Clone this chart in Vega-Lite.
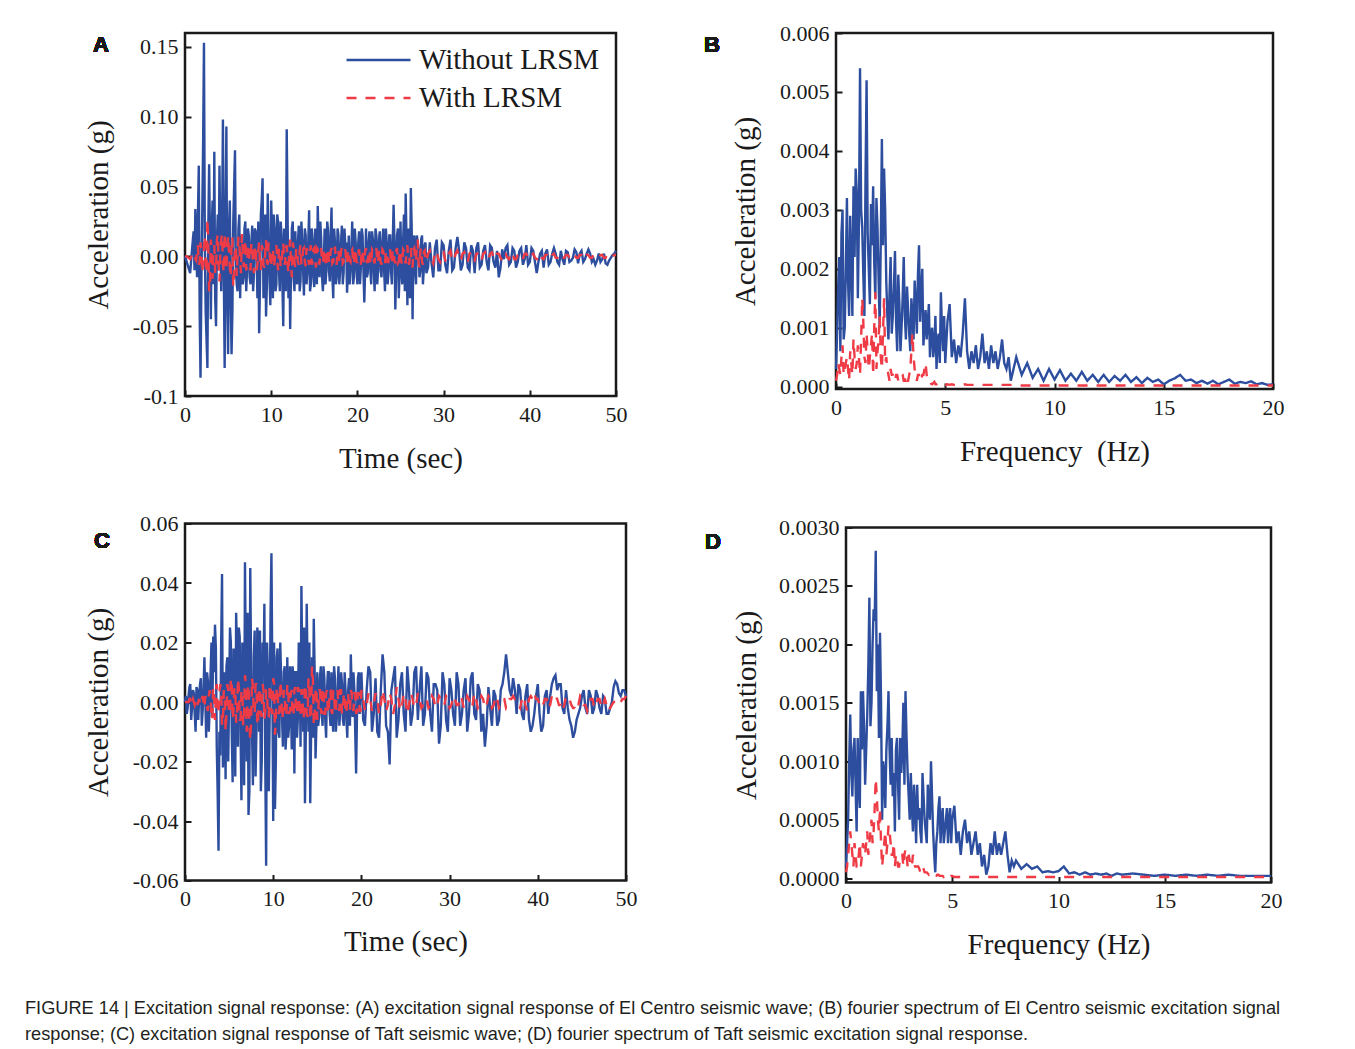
{
  "$schema": "https://vega.github.io/schema/vega-lite/v6.json",
  "autosize": {"type": "none"},
  "padding": {"left": 185, "top": 33, "right": 1170, "bottom": 1016},
  "background": "white",
  "config": {
    "view": {"stroke": "#1a1a1a", "strokeWidth": 2.5},
    "axis": {"domain": false, "grid": false, "tickSize": -6, "tickWidth": 2, "tickColor": "#1a1a1a", "labelFont": "Liberation Serif", "labelFontSize": 22, "labelColor": "#1a1a1a", "labelFlush": false, "labelOverlap": false, "titleFont": "Liberation Serif", "titleFontSize": 29, "titleFontWeight": "normal", "titleColor": "#1a1a1a", "titleBaseline": "middle"},
    "axisX": {"labelPadding": 14},
    "axisY": {"labelPadding": 13},
    "legend": {"title": null, "orient": "none", "symbolType": "stroke", "symbolSize": 4096, "symbolStrokeWidth": 2.4, "labelFont": "Liberation Serif", "labelFontSize": 29, "labelColor": "#1a1a1a", "labelOffset": 7, "rowPadding": 8, "clipHeight": 29, "padding": 0, "labelLimit": 0},
    "line": {"strokeWidth": 2.4}
  },
  "title": {
    "text": ["FIGURE 14 | Excitation signal response: (A) excitation signal response of El Centro seismic wave; (B) fourier spectrum of El Centro seismic excitation signal", "response; (C) excitation signal response of Taft seismic wave; (D) fourier spectrum of Taft seismic excitation signal response."],
    "orient": "bottom", "anchor": "start", "frame": "group", "dx": -160, "offset": 48.5, "baseline": "middle",
    "font": "Liberation Sans", "fontSize": 18.2, "fontWeight": "normal", "color": "#231f20", "lineHeight": 26
  },
  "datasets": {
    "a": [
      {"t":0,"wo":0,"w":0},{"t":0.2,"wo":-0.004,"w":0},{"t":0.4,"wo":-0.008,"w":-0.001},{"t":0.6,"wo":-0.012,"w":-0.002},{"t":0.8,"wo":0.004,"w":0.001},
      {"t":1.0,"wo":0.018,"w":0.003},{"t":1.2,"wo":0.034,"w":-0.002},{"t":1.4,"wo":-0.015,"w":0.004},{"t":1.6,"wo":0.065,"w":-0.006},{"t":1.8,"wo":-0.087,"w":0.010},
      {"t":2.0,"wo":0.030,"w":-0.012},{"t":2.2,"wo":0.153,"w":0.006},{"t":2.4,"wo":-0.040,"w":-0.008},{"t":2.6,"wo":-0.080,"w":0.027},{"t":2.8,"wo":0.066,"w":-0.025},
      {"t":3.0,"wo":-0.045,"w":0.012},{"t":3.2,"wo":0.040,"w":-0.016},{"t":3.4,"wo":0.075,"w":0.008},{"t":3.6,"wo":-0.050,"w":-0.010},{"t":3.8,"wo":0.030,"w":0.016},
      {"t":4.0,"wo":0.065,"w":-0.018},{"t":4.2,"wo":-0.025,"w":0.012},{"t":4.4,"wo":0.098,"w":-0.006},{"t":4.6,"wo":-0.080,"w":0.017},{"t":4.8,"wo":0.093,"w":-0.010},
      {"t":5.0,"wo":-0.070,"w":0.015},{"t":5.2,"wo":0.040,"w":-0.008},{"t":5.4,"wo":-0.070,"w":0.010},{"t":5.6,"wo":0.025,"w":-0.022},{"t":5.8,"wo":0.076,"w":0.006},
      {"t":6.0,"wo":-0.020,"w":-0.014},{"t":6.2,"wo":0.020,"w":0.014},{"t":6.4,"wo":-0.030,"w":-0.004},{"t":6.6,"wo":0.010,"w":0.016},{"t":6.8,"wo":-0.015,"w":-0.008},
      {"t":7.0,"wo":0.025,"w":0.012},{"t":7.2,"wo":-0.010,"w":-0.006},{"t":7.4,"wo":0.015,"w":0.009},{"t":7.6,"wo":-0.020,"w":-0.010},{"t":7.8,"wo":0.022,"w":0.004},
      {"t":8.0,"wo":-0.012,"w":-0.012},{"t":8.2,"wo":0.018,"w":0.008},{"t":8.4,"wo":-0.030,"w":-0.006},{"t":8.6,"wo":-0.055,"w":0.010},{"t":8.8,"wo":0.030,"w":-0.010},
      {"t":9.0,"wo":0.056,"w":0.006},{"t":9.2,"wo":-0.020,"w":-0.008},{"t":9.4,"wo":-0.043,"w":0.012},{"t":9.6,"wo":0.045,"w":-0.006},{"t":9.8,"wo":-0.015,"w":0.005},
      {"t":10.0,"wo":0.040,"w":-0.008},{"t":10.2,"wo":-0.030,"w":0.006},{"t":10.4,"wo":0.020,"w":-0.004},{"t":10.6,"wo":-0.020,"w":0.008},{"t":10.8,"wo":0.025,"w":-0.010},
      {"t":11.0,"wo":-0.025,"w":0.004},{"t":11.2,"wo":0.015,"w":-0.005},{"t":11.4,"wo":-0.050,"w":0.010},{"t":11.6,"wo":0.010,"w":-0.006},{"t":11.8,"wo":0.091,"w":0.008},
      {"t":12.0,"wo":-0.030,"w":-0.012},{"t":12.2,"wo":-0.052,"w":0.012},{"t":12.4,"wo":0.020,"w":-0.015},{"t":12.6,"wo":-0.015,"w":0.006},{"t":12.8,"wo":0.018,"w":-0.008},
      {"t":13.0,"wo":-0.020,"w":0.005},{"t":13.2,"wo":0.022,"w":-0.006},{"t":13.4,"wo":-0.018,"w":0.008},{"t":13.6,"wo":0.012,"w":-0.004},{"t":13.8,"wo":-0.028,"w":0.006},
      {"t":14.0,"wo":0.015,"w":-0.007},{"t":14.2,"wo":-0.012,"w":0.004},{"t":14.4,"wo":0.033,"w":-0.006},{"t":14.6,"wo":-0.020,"w":0.008},{"t":14.8,"wo":0.012,"w":-0.004},
      {"t":15.0,"wo":-0.022,"w":0.006},{"t":15.2,"wo":0.010,"w":-0.008},{"t":15.4,"wo":0.036,"w":0.005},{"t":15.6,"wo":-0.015,"w":-0.006},{"t":15.8,"wo":0.012,"w":0.006},
      {"t":16.0,"wo":-0.025,"w":-0.004},{"t":16.2,"wo":0.020,"w":0.006},{"t":16.4,"wo":-0.010,"w":-0.008},{"t":16.6,"wo":0.018,"w":0.004},{"t":16.8,"wo":-0.018,"w":-0.005},
      {"t":17.0,"wo":0.035,"w":0.006},{"t":17.2,"wo":-0.030,"w":-0.004},{"t":17.4,"wo":0.010,"w":0.007},{"t":17.6,"wo":-0.015,"w":-0.006},{"t":17.8,"wo":0.015,"w":0.004},
      {"t":18.0,"wo":-0.010,"w":-0.005},{"t":18.2,"wo":0.022,"w":0.006},{"t":18.4,"wo":-0.012,"w":-0.004},{"t":18.6,"wo":0.008,"w":0.005},{"t":18.8,"wo":-0.026,"w":-0.006},
      {"t":19.0,"wo":0.015,"w":0.004},{"t":19.2,"wo":-0.010,"w":-0.004},{"t":19.4,"wo":0.025,"w":0.005},{"t":19.6,"wo":-0.015,"w":-0.006},{"t":19.8,"wo":0.010,"w":0.006},
      {"t":20.0,"wo":-0.020,"w":-0.004},{"t":20.2,"wo":0.018,"w":0.005},{"t":20.4,"wo":-0.008,"w":-0.006},{"t":20.6,"wo":0.015,"w":0.004},{"t":20.8,"wo":-0.033,"w":-0.005},
      {"t":21.0,"wo":0.020,"w":0.006},{"t":21.2,"wo":-0.012,"w":-0.004},{"t":21.4,"wo":0.018,"w":0.005},{"t":21.6,"wo":-0.020,"w":-0.006},{"t":21.8,"wo":0.012,"w":0.004},
      {"t":22.0,"wo":-0.025,"w":-0.005},{"t":22.2,"wo":0.015,"w":0.006},{"t":22.4,"wo":-0.010,"w":-0.004},{"t":22.6,"wo":0.018,"w":0.005},{"t":22.8,"wo":-0.015,"w":-0.006},
      {"t":23.0,"wo":0.020,"w":0.004},{"t":23.2,"wo":-0.025,"w":-0.005},{"t":23.4,"wo":0.010,"w":0.004},{"t":23.6,"wo":-0.012,"w":-0.004},{"t":23.8,"wo":0.015,"w":0.005},
      {"t":24.0,"wo":-0.020,"w":-0.006},{"t":24.2,"wo":0.037,"w":0.004},{"t":24.4,"wo":-0.038,"w":-0.005},{"t":24.6,"wo":0.015,"w":0.006},{"t":24.8,"wo":-0.030,"w":-0.004},
      {"t":25.0,"wo":0.025,"w":0.005},{"t":25.2,"wo":-0.020,"w":-0.006},{"t":25.4,"wo":0.030,"w":0.004},{"t":25.6,"wo":0.045,"w":-0.005},{"t":25.8,"wo":-0.035,"w":0.008},
      {"t":26.0,"wo":0.010,"w":-0.006},{"t":26.2,"wo":0.049,"w":0.006},{"t":26.4,"wo":-0.045,"w":-0.008},{"t":26.6,"wo":0.015,"w":0.006},{"t":26.8,"wo":-0.020,"w":-0.004},
      {"t":27.0,"wo":0.010,"w":0.012},{"t":27.2,"wo":-0.015,"w":-0.008},{"t":27.4,"wo":0.012,"w":0.006},{"t":27.6,"wo":-0.020,"w":-0.006},{"t":27.8,"wo":0.008,"w":0.004},
      {"t":28.0,"wo":-0.012,"w":-0.004},{"t":28.4,"wo":0.010,"w":0.004},{"t":28.8,"wo":-0.015,"w":-0.005},{"t":29.2,"wo":0.012,"w":0.004},{"t":29.6,"wo":-0.010,"w":-0.004},
      {"t":30.0,"wo":0.008,"w":0.003},{"t":30.4,"wo":-0.012,"w":-0.004},{"t":30.8,"wo":0.012,"w":0.004},{"t":31.2,"wo":-0.008,"w":-0.003},{"t":31.6,"wo":0.014,"w":0.004},
      {"t":32.0,"wo":-0.010,"w":-0.003},{"t":32.4,"wo":0.010,"w":0.003},{"t":32.8,"wo":-0.008,"w":-0.004},{"t":33.2,"wo":0.008,"w":0.003},{"t":33.6,"wo":-0.012,"w":-0.003},
      {"t":34.0,"wo":0.010,"w":0.002},{"t":34.4,"wo":-0.006,"w":-0.003},{"t":34.8,"wo":0.008,"w":0.003},{"t":35.2,"wo":-0.010,"w":-0.002},{"t":35.6,"wo":0.006,"w":0.003},
      {"t":36.0,"wo":-0.008,"w":-0.002},{"t":36.4,"wo":-0.015,"w":0.002},{"t":36.8,"wo":0.005,"w":-0.003},{"t":37.2,"wo":0.006,"w":0.002},{"t":37.6,"wo":-0.006,"w":-0.002},
      {"t":38.0,"wo":0.006,"w":0.003},{"t":38.4,"wo":-0.008,"w":-0.002},{"t":38.8,"wo":0.004,"w":0.002},{"t":39.2,"wo":-0.006,"w":-0.002},{"t":39.6,"wo":0.008,"w":0.002},
      {"t":40.0,"wo":-0.004,"w":-0.002},{"t":40.4,"wo":0.004,"w":0.002},{"t":40.8,"wo":-0.012,"w":-0.002},{"t":41.2,"wo":0.002,"w":0.002},{"t":41.6,"wo":-0.008,"w":-0.002},
      {"t":42.0,"wo":0.005,"w":0.001},{"t":42.4,"wo":-0.004,"w":-0.002},{"t":42.8,"wo":0.006,"w":0.002},{"t":43.2,"wo":-0.004,"w":-0.001},{"t":43.6,"wo":0.004,"w":0.002},
      {"t":44.0,"wo":-0.006,"w":-0.001},{"t":44.4,"wo":0.003,"w":0.001},{"t":44.8,"wo":-0.003,"w":-0.002},{"t":45.2,"wo":0.005,"w":0.001},{"t":45.6,"wo":-0.005,"w":-0.001},
      {"t":46.0,"wo":0.004,"w":0.001},{"t":46.4,"wo":-0.002,"w":-0.002},{"t":46.8,"wo":0.005,"w":0.001},{"t":47.2,"wo":-0.004,"w":-0.001},{"t":47.6,"wo":-0.006,"w":0.001},
      {"t":48.0,"wo":0.002,"w":-0.001},{"t":48.4,"wo":-0.002,"w":0.001},{"t":48.8,"wo":-0.005,"w":-0.001},{"t":49.2,"wo":-0.003,"w":0.001},{"t":49.6,"wo":0.001,"w":0},
      {"t":50.0,"wo":0.004,"w":0.001},
      {"t":1.1,"wo":-0.010,"w":0},{"t":1.3,"wo":0.005,"w":-0.003},{"t":1.5,"wo":0.030,"w":0.008},{"t":1.7,"wo":-0.040,"w":-0.004},{"t":1.9,"wo":-0.020,"w":0.003},
      {"t":2.1,"wo":0.080,"w":-0.003},{"t":2.3,"wo":0.010,"w":0.015},{"t":2.5,"wo":-0.060,"w":-0.012},{"t":2.7,"wo":0.020,"w":0.010},{"t":2.9,"wo":0.010,"w":-0.020},
      {"t":3.1,"wo":0.020,"w":0.004},{"t":3.3,"wo":-0.020,"w":0.005},{"t":3.5,"wo":-0.030,"w":-0.012},{"t":3.7,"wo":0.010,"w":0.012},{"t":3.9,"wo":-0.010,"w":-0.006},
      {"t":4.1,"wo":0.010,"w":0.003},{"t":4.3,"wo":0.020,"w":0.016},{"t":4.5,"wo":-0.010,"w":-0.012},{"t":4.7,"wo":0.020,"w":0.002},{"t":4.9,"wo":-0.030,"w":0.005},
      {"t":5.1,"wo":0.020,"w":0.003},{"t":5.3,"wo":-0.030,"w":-0.015},{"t":5.5,"wo":-0.040,"w":0.014},{"t":5.7,"wo":0.050,"w":-0.010},{"t":5.9,"wo":-0.010,"w":0.008},
      {"t":6.1,"wo":-0.025,"w":0.002},{"t":6.3,"wo":0.030,"w":0.010},{"t":6.5,"wo":0.015,"w":-0.012},{"t":6.7,"wo":-0.020,"w":0.004},{"t":6.9,"wo":0.020,"w":0.003},
      {"t":7.1,"wo":-0.025,"w":-0.010},{"t":7.3,"wo":0.020,"w":0.006},{"t":7.5,"wo":-0.015,"w":-0.008},{"t":7.7,"wo":0.010,"w":0.010},{"t":7.9,"wo":-0.025,"w":-0.004},
      {"t":8.1,"wo":0.020,"w":0.006},{"t":8.3,"wo":0.005,"w":-0.010},{"t":8.5,"wo":0.025,"w":0.004},{"t":8.7,"wo":-0.020,"w":-0.004},{"t":8.9,"wo":0.040,"w":0.008},
      {"t":9.1,"wo":-0.030,"w":-0.006},{"t":9.3,"wo":0.030,"w":0.002},{"t":9.5,"wo":-0.020,"w":-0.004},{"t":9.7,"wo":0.010,"w":0.010},{"t":9.9,"wo":-0.035,"w":-0.006},
      {"t":10.1,"wo":0.015,"w":0.004},{"t":10.3,"wo":0.030,"w":-0.008},{"t":10.5,"wo":-0.025,"w":0.005},{"t":10.7,"wo":0.030,"w":-0.003},{"t":10.9,"wo":-0.010,"w":0.006},
      {"t":11.1,"wo":0.025,"w":-0.008},{"t":11.3,"wo":-0.020,"w":0.003},{"t":11.5,"wo":0.020,"w":-0.004},{"t":11.7,"wo":-0.025,"w":0.006},{"t":11.9,"wo":0.030,"w":-0.006},
      {"t":12.1,"wo":0.010,"w":0.004},{"t":12.3,"wo":-0.010,"w":-0.006},{"t":12.5,"wo":0.025,"w":0.010},{"t":12.7,"wo":-0.025,"w":-0.004},{"t":12.9,"wo":-0.010,"w":0.006},
      {"t":13.1,"wo":0.010,"w":-0.004},{"t":13.3,"wo":-0.025,"w":0.004},{"t":13.5,"wo":0.025,"w":-0.006},{"t":13.7,"wo":-0.010,"w":0.005},{"t":13.9,"wo":0.020,"w":-0.004},
      {"t":14.1,"wo":-0.020,"w":0.006},{"t":14.3,"wo":0.010,"w":-0.003},{"t":14.5,"wo":-0.025,"w":0.004},{"t":14.7,"wo":0.020,"w":-0.006},{"t":14.9,"wo":-0.015,"w":0.005},
      {"t":15.1,"wo":0.020,"w":-0.004},{"t":15.3,"wo":-0.020,"w":0.006},{"t":15.5,"wo":0.010,"w":-0.003},{"t":15.7,"wo":0.025,"w":0.004},{"t":15.9,"wo":-0.015,"w":-0.005},
      {"t":16.1,"wo":-0.005,"w":0.003},{"t":16.3,"wo":-0.020,"w":-0.004},{"t":16.5,"wo":0.025,"w":0.006},{"t":16.7,"wo":-0.010,"w":-0.003},{"t":16.9,"wo":0.015,"w":0.004},
      {"t":17.1,"wo":-0.015,"w":-0.005},{"t":17.3,"wo":0.020,"w":0.003},{"t":17.5,"wo":-0.020,"w":-0.004},{"t":17.7,"wo":0.020,"w":0.005},{"t":17.9,"wo":-0.020,"w":-0.003},
      {"t":18.1,"wo":0.010,"w":0.004},{"t":18.3,"wo":-0.020,"w":-0.005},{"t":18.5,"wo":0.020,"w":0.003},{"t":18.7,"wo":0.010,"w":-0.004},{"t":18.9,"wo":-0.010,"w":0.005},
      {"t":19.1,"wo":-0.020,"w":-0.003},{"t":19.3,"wo":0.005,"w":0.004},{"t":19.5,"wo":-0.020,"w":-0.004},{"t":19.7,"wo":0.020,"w":0.003},{"t":19.9,"wo":-0.010,"w":-0.004},
      {"t":20.1,"wo":0.010,"w":0.003},{"t":20.3,"wo":-0.020,"w":-0.004},{"t":20.5,"wo":0.020,"w":0.005},{"t":20.7,"wo":-0.010,"w":-0.003},{"t":20.9,"wo":-0.010,"w":0.004},
      {"t":21.1,"wo":-0.015,"w":-0.004},{"t":21.3,"wo":0.010,"w":0.003},{"t":21.5,"wo":-0.010,"w":-0.004},{"t":21.7,"wo":0.018,"w":0.005},{"t":21.9,"wo":-0.010,"w":-0.003},
      {"t":22.1,"wo":0.020,"w":0.004},{"t":22.3,"wo":-0.020,"w":-0.005},{"t":22.5,"wo":0.012,"w":0.003},{"t":22.7,"wo":-0.010,"w":-0.004},{"t":22.9,"wo":0.010,"w":0.005},
      {"t":23.1,"wo":-0.010,"w":-0.003},{"t":23.3,"wo":0.020,"w":0.004},{"t":23.5,"wo":-0.020,"w":-0.004},{"t":23.7,"wo":0.015,"w":0.003},{"t":23.9,"wo":-0.010,"w":-0.004},
      {"t":24.1,"wo":0.010,"w":0.005},{"t":24.3,"wo":0.010,"w":-0.003},{"t":24.5,"wo":-0.010,"w":0.004},{"t":24.7,"wo":0.020,"w":-0.005},{"t":24.9,"wo":-0.010,"w":0.003},
      {"t":25.1,"wo":-0.010,"w":-0.004},{"t":25.3,"wo":0.010,"w":0.005},{"t":25.5,"wo":-0.025,"w":-0.003},{"t":25.7,"wo":0.010,"w":0.004},{"t":25.9,"wo":0.020,"w":-0.004},
      {"t":26.1,"wo":-0.030,"w":0.003},{"t":26.3,"wo":0.020,"w":-0.006},{"t":26.5,"wo":0.010,"w":0.005},{"t":26.7,"wo":-0.010,"w":-0.003},{"t":26.9,"wo":0.015,"w":0.008},
      {"t":27.1,"wo":0.005,"w":-0.005},{"t":27.3,"wo":-0.010,"w":0.004},{"t":27.5,"wo":0.015,"w":-0.004},{"t":27.7,"wo":-0.010,"w":0.003},{"t":27.9,"wo":0.010,"w":-0.003},
      {"t":28.2,"wo":-0.008,"w":0.002},{"t":28.6,"wo":-0.005,"w":-0.002},{"t":29.0,"wo":0.006,"w":0.003},{"t":29.4,"wo":-0.010,"w":-0.002},{"t":29.8,"wo":0.010,"w":0.002},
      {"t":30.2,"wo":-0.006,"w":-0.003},{"t":30.6,"wo":0.004,"w":0.002},{"t":31.0,"wo":-0.010,"w":-0.003},{"t":31.4,"wo":0.006,"w":0.002},{"t":31.8,"wo":0.004,"w":-0.002},
      {"t":32.2,"wo":-0.006,"w":0.002},{"t":32.6,"wo":0.006,"w":-0.002},{"t":33.0,"wo":-0.010,"w":0.002},{"t":33.4,"wo":0.004,"w":-0.002},{"t":33.8,"wo":0.006,"w":0.002},
      {"t":34.2,"wo":-0.008,"w":-0.002},{"t":34.6,"wo":0.004,"w":0.002},{"t":35.0,"wo":-0.004,"w":-0.002},{"t":35.4,"wo":0.008,"w":0.002},{"t":35.8,"wo":-0.004,"w":-0.001},
      {"t":36.2,"wo":0.004,"w":0.002},{"t":36.6,"wo":-0.008,"w":-0.001},{"t":37.0,"wo":-0.002,"w":0.002},{"t":37.4,"wo":0.008,"w":-0.001},{"t":37.8,"wo":-0.004,"w":0.002},
      {"t":38.2,"wo":0.004,"w":-0.002},{"t":38.6,"wo":-0.004,"w":0.001},{"t":39.0,"wo":0.006,"w":-0.001},{"t":39.4,"wo":-0.002,"w":0.002},{"t":39.8,"wo":-0.006,"w":-0.001},
      {"t":40.2,"wo":0.006,"w":0.001},{"t":40.6,"wo":-0.004,"w":-0.001},{"t":41.0,"wo":-0.004,"w":0.001},{"t":41.4,"wo":0.004,"w":-0.001},{"t":41.8,"wo":0.002,"w":0.001},
      {"t":42.2,"wo":-0.006,"w":-0.001},{"t":42.6,"wo":0.002,"w":0.001},{"t":43.0,"wo":0.002,"w":-0.001},{"t":43.4,"wo":-0.006,"w":0.001},{"t":43.8,"wo":-0.002,"w":-0.001},
      {"t":44.2,"wo":0.004,"w":0.001},{"t":44.6,"wo":-0.004,"w":-0.001},{"t":45.0,"wo":-0.001,"w":0.001},{"t":45.4,"wo":0.003,"w":-0.001},{"t":45.8,"wo":0.002,"w":0.001},
      {"t":46.2,"wo":-0.004,"w":-0.001},{"t":46.6,"wo":0.002,"w":0.001},{"t":47.0,"wo":0.002,"w":-0.001},{"t":47.4,"wo":-0.002,"w":0.001},{"t":47.8,"wo":-0.003,"w":-0.001},
      {"t":48.2,"wo":-0.004,"w":0.001},{"t":48.6,"wo":0.002,"w":-0.001},{"t":49.0,"wo":-0.006,"w":0.001},{"t":49.4,"wo":-0.001,"w":-0.001},{"t":49.8,"wo":0.002,"w":0.001}
    ],
    "b": [
      {"f":0,"wo":0.0003,"w":0.0001},{"f":0.1,"wo":0.0017,"w":0.0004},{"f":0.2,"wo":0.0006,"w":0.0002},{"f":0.3,"wo":0.0030,"w":0.0007},{"f":0.4,"wo":0.0010,"w":0.0003},
      {"f":0.5,"wo":0.0032,"w":0.0005},{"f":0.6,"wo":0.0012,"w":0.0001},{"f":0.7,"wo":0.0021,"w":0.0004},{"f":0.8,"wo":0.0034,"w":0.0008},{"f":0.9,"wo":0.0037,"w":0.0003},
      {"f":1.0,"wo":0.0015,"w":0.0007},{"f":1.1,"wo":0.0054,"w":0.0002},{"f":1.2,"wo":0.0027,"w":0.0015},{"f":1.3,"wo":0.0012,"w":0.0005},{"f":1.4,"wo":0.0052,"w":0.0009},
      {"f":1.5,"wo":0.0020,"w":0.0003},{"f":1.6,"wo":0.0031,"w":0.0007},{"f":1.7,"wo":0.0034,"w":0.0002},{"f":1.8,"wo":0.0015,"w":0.0016},{"f":1.9,"wo":0.0027,"w":0.0006},
      {"f":2.0,"wo":0.0010,"w":0.0012},{"f":2.1,"wo":0.0042,"w":0.0003},{"f":2.2,"wo":0.0037,"w":0.0015},{"f":2.3,"wo":0.0018,"w":0.0005},{"f":2.4,"wo":0.0008,"w":0.0002},
      {"f":2.5,"wo":0.0022,"w":0.0003},{"f":2.6,"wo":0.0012,"w":0.0002},{"f":2.7,"wo":0.0023,"w":0.0001},{"f":2.8,"wo":0.0006,"w":0.0002},{"f":2.9,"wo":0.0014,"w":0.0001},
      {"f":3.0,"wo":0.0010,"w":0.0002},{"f":3.1,"wo":0.0022,"w":0.0001},{"f":3.2,"wo":0.0008,"w":0.0002},{"f":3.3,"wo":0.0013,"w":0.0001},{"f":3.4,"wo":0.0006,"w":0.0003},
      {"f":3.5,"wo":0.0012,"w":0.0009},{"f":3.6,"wo":0.0018,"w":0.0003},{"f":3.7,"wo":0.0009,"w":0.0001},{"f":3.8,"wo":0.0024,"w":0.0002},{"f":3.9,"wo":0.0016,"w":0.0001},
      {"f":4.0,"wo":0.0007,"w":0.0002},{"f":4.1,"wo":0.0013,"w":0.0004},{"f":4.2,"wo":0.0011,"w":0.0001},{"f":4.3,"wo":0.0005,"w":0.0001},{"f":4.4,"wo":0.0010,"w":0.00004},
      {"f":4.5,"wo":0.0007,"w":0.00008},{"f":4.6,"wo":0.0003,"w":0.00004},{"f":4.7,"wo":0.0009,"w":0.00006},{"f":4.8,"wo":0.0016,"w":0.00004},{"f":4.9,"wo":0.0006,"w":0.00005},
      {"f":5.0,"wo":0.0004,"w":0.00003},{"f":5.1,"wo":0.0011,"w":0.00004},{"f":5.2,"wo":0.0014,"w":0.00003},{"f":5.3,"wo":0.0005,"w":0.00004},{"f":5.4,"wo":0.0008,"w":0.00003},
      {"f":5.5,"wo":0.0004,"w":0.00003},{"f":5.6,"wo":0.0007,"w":0.00004},{"f":5.7,"wo":0.0005,"w":0.00003},{"f":5.8,"wo":0.0009,"w":0.00003},{"f":5.9,"wo":0.0015,"w":0.00004},
      {"f":6.0,"wo":0.0006,"w":0.00003},{"f":6.1,"wo":0.0003,"w":0.00003},{"f":6.2,"wo":0.0006,"w":0.00003},{"f":6.3,"wo":0.0004,"w":0.00003},{"f":6.4,"wo":0.0007,"w":0.00003},
      {"f":6.5,"wo":0.0003,"w":0.00003},{"f":6.6,"wo":0.0005,"w":0.00003},{"f":6.7,"wo":0.0009,"w":0.00003},{"f":6.8,"wo":0.0004,"w":0.00003},{"f":6.9,"wo":0.0006,"w":0.00003},
      {"f":7.0,"wo":0.0003,"w":0.00003},{"f":7.1,"wo":0.0007,"w":0.00003},{"f":7.2,"wo":0.0004,"w":0.00003},{"f":7.3,"wo":0.0006,"w":0.00003},{"f":7.4,"wo":0.0003,"w":0.00003},
      {"f":7.5,"wo":0.0005,"w":0.00003},{"f":7.6,"wo":0.0008,"w":0.00003},{"f":7.7,"wo":0.0004,"w":0.00003},{"f":7.8,"wo":0.0003,"w":0.00003},{"f":7.9,"wo":0.0005,"w":0.00003},
      {"f":8.0,"wo":0.0001,"w":0.00003},{"f":8.25,"wo":0.0005,"w":0.00003},{"f":8.5,"wo":0.0002,"w":0.00002},{"f":8.75,"wo":0.0004,"w":0.00002},{"f":9.0,"wo":0.00015,"w":0.00002},
      {"f":9.25,"wo":0.0003,"w":0.00002},{"f":9.5,"wo":0.0001,"w":0.00002},{"f":9.75,"wo":0.0003,"w":0.00002},{"f":10.0,"wo":0.00012,"w":0.00002},{"f":10.25,"wo":0.00028,"w":0.00002},
      {"f":10.5,"wo":0.0001,"w":0.00002},{"f":10.75,"wo":0.00022,"w":0.00002},{"f":11.0,"wo":0.0001,"w":0.00002},{"f":11.25,"wo":0.00025,"w":0.00002},{"f":11.5,"wo":0.0001,"w":0.00002},
      {"f":11.75,"wo":0.0002,"w":0.00002},{"f":12.0,"wo":0.00008,"w":0.00002},{"f":12.25,"wo":0.0002,"w":0.00002},{"f":12.5,"wo":0.00008,"w":0.00002},{"f":12.75,"wo":0.00018,"w":0.00002},
      {"f":13.0,"wo":0.0001,"w":0.00002},{"f":13.25,"wo":0.0002,"w":0.00002},{"f":13.5,"wo":0.00008,"w":0.00002},{"f":13.75,"wo":0.00016,"w":0.00002},{"f":14.0,"wo":0.00006,"w":0.00002},
      {"f":14.25,"wo":0.00015,"w":0.00002},{"f":14.5,"wo":0.00008,"w":0.00002},{"f":14.75,"wo":0.00012,"w":0.00002},{"f":15.0,"wo":0.00004,"w":0.00002},{"f":15.25,"wo":0.0001,"w":0.00002},
      {"f":15.5,"wo":0.00014,"w":0.00002},{"f":15.75,"wo":0.0002,"w":0.00002},{"f":16.0,"wo":0.0001,"w":0.00002},{"f":16.25,"wo":0.00012,"w":0.00002},{"f":16.5,"wo":0.00006,"w":0.00002},
      {"f":16.75,"wo":0.0001,"w":0.00002},{"f":17.0,"wo":0.00005,"w":0.00002},{"f":17.25,"wo":0.0001,"w":0.00002},{"f":17.5,"wo":0.00004,"w":0.00002},{"f":17.75,"wo":0.00008,"w":0.00002},
      {"f":18.0,"wo":0.00012,"w":0.00002},{"f":18.25,"wo":0.00005,"w":0.00002},{"f":18.5,"wo":0.00008,"w":0.00002},{"f":18.75,"wo":0.00006,"w":0.00002},{"f":19.0,"wo":0.00009,"w":0.00002},
      {"f":19.25,"wo":0.00004,"w":0.00002},{"f":19.5,"wo":0.00006,"w":0.00002},{"f":19.75,"wo":0.00003,"w":0.00002},{"f":20.0,"wo":0.00004,"w":0.00002},
      {"f":0.05,"wo":0.0009,"w":0.0002},{"f":0.15,"wo":0.0022,"w":0.0003},{"f":0.25,"wo":0.0026,"w":0.0005},{"f":0.35,"wo":0.0008,"w":0.0002},{"f":0.45,"wo":0.0020,"w":0.0004},
      {"f":0.55,"wo":0.0018,"w":0.0003},{"f":0.65,"wo":0.0029,"w":0.0006},{"f":0.75,"wo":0.0012,"w":0.0002},{"f":0.85,"wo":0.0022,"w":0.0005},{"f":0.95,"wo":0.0033,"w":0.0004},
      {"f":1.05,"wo":0.0028,"w":0.0005},{"f":1.15,"wo":0.0030,"w":0.0008},{"f":1.25,"wo":0.0019,"w":0.0011},{"f":1.35,"wo":0.0035,"w":0.0004},{"f":1.45,"wo":0.0026,"w":0.0006},
      {"f":1.55,"wo":0.0014,"w":0.0005},{"f":1.65,"wo":0.0024,"w":0.0009},{"f":1.75,"wo":0.0021,"w":0.0010},{"f":1.85,"wo":0.0032,"w":0.0003},{"f":1.95,"wo":0.0018,"w":0.0008},
      {"f":2.05,"wo":0.0025,"w":0.0005},{"f":2.15,"wo":0.0024,"w":0.0009},{"f":2.25,"wo":0.0030,"w":0.0004},{"f":2.35,"wo":0.0012,"w":0.0003},{"f":2.45,"wo":0.0016,"w":0.0001},
      {"f":2.55,"wo":0.0009,"w":0.0002},{"f":2.65,"wo":0.0017,"w":0.0001},{"f":2.75,"wo":0.0011,"w":0.0002},{"f":2.85,"wo":0.0019,"w":0.0001},{"f":2.95,"wo":0.0006,"w":0.0001},
      {"f":3.05,"wo":0.0015,"w":0.0002},{"f":3.15,"wo":0.0012,"w":0.0001},{"f":3.25,"wo":0.0017,"w":0.0001},{"f":3.35,"wo":0.0009,"w":0.0002},{"f":3.45,"wo":0.0015,"w":0.0006},
      {"f":3.55,"wo":0.0008,"w":0.0005},{"f":3.65,"wo":0.0014,"w":0.0002},{"f":3.75,"wo":0.0019,"w":0.0002},{"f":3.85,"wo":0.0011,"w":0.0001},{"f":3.95,"wo":0.0020,"w":0.0002},
      {"f":4.05,"wo":0.0010,"w":0.0003},{"f":4.15,"wo":0.0008,"w":0.0002},{"f":4.25,"wo":0.0014,"w":0.0001},{"f":4.35,"wo":0.0009,"w":0.00005},{"f":4.45,"wo":0.0005,"w":0.00006},
      {"f":4.55,"wo":0.0012,"w":0.00004},{"f":4.65,"wo":0.0008,"w":0.00005},{"f":4.75,"wo":0.0004,"w":0.00004},{"f":4.85,"wo":0.0010,"w":0.00004},{"f":4.95,"wo":0.0012,"w":0.00004}
    ],
    "c": [
      {"t":0,"wo":0,"w":0},{"t":0.2,"wo":-0.004,"w":0},{"t":0.4,"wo":0.002,"w":0},{"t":0.6,"wo":0.006,"w":0.001},{"t":0.8,"wo":-0.002,"w":0},
      {"t":1.0,"wo":0.003,"w":0},{"t":1.2,"wo":-0.010,"w":0},{"t":1.4,"wo":0.004,"w":-0.001},{"t":1.6,"wo":0.001,"w":0.001},{"t":1.8,"wo":0.008,"w":-0.001},
      {"t":2.0,"wo":-0.003,"w":0.002},{"t":2.2,"wo":0.015,"w":-0.002},{"t":2.4,"wo":-0.012,"w":0.001},{"t":2.6,"wo":0.007,"w":-0.003},{"t":2.8,"wo":-0.002,"w":0.004},
      {"t":3.0,"wo":0.020,"w":-0.004},{"t":3.2,"wo":0.022,"w":0.005},{"t":3.4,"wo":0.026,"w":-0.006},{"t":3.6,"wo":-0.015,"w":0.006},{"t":3.8,"wo":-0.050,"w":-0.004},
      {"t":4.0,"wo":-0.018,"w":0.006},{"t":4.2,"wo":0.043,"w":-0.008},{"t":4.4,"wo":-0.010,"w":0.004},{"t":4.6,"wo":-0.026,"w":-0.010},{"t":4.8,"wo":0.015,"w":0.006},
      {"t":5.0,"wo":0.002,"w":-0.004},{"t":5.2,"wo":0.020,"w":0.008},{"t":5.4,"wo":-0.027,"w":-0.006},{"t":5.6,"wo":0.010,"w":0.005},{"t":5.8,"wo":0.030,"w":-0.007},
      {"t":6.0,"wo":-0.015,"w":0.008},{"t":6.2,"wo":0.022,"w":-0.006},{"t":6.4,"wo":-0.033,"w":0.004},{"t":6.6,"wo":0.010,"w":-0.008},{"t":6.8,"wo":0.047,"w":0.009},
      {"t":7.0,"wo":-0.020,"w":-0.010},{"t":7.2,"wo":-0.038,"w":0.006},{"t":7.4,"wo":0.045,"w":-0.013},{"t":7.6,"wo":-0.010,"w":0.008},{"t":7.8,"wo":0.015,"w":-0.004},
      {"t":8.0,"wo":-0.025,"w":0.006},{"t":8.2,"wo":0.025,"w":-0.008},{"t":8.4,"wo":-0.010,"w":0.005},{"t":8.6,"wo":-0.030,"w":-0.004},{"t":8.8,"wo":0.020,"w":0.006},
      {"t":9.0,"wo":0.033,"w":-0.006},{"t":9.2,"wo":-0.055,"w":0.004},{"t":9.4,"wo":0.010,"w":-0.005},{"t":9.6,"wo":-0.005,"w":0.006},{"t":9.8,"wo":0.050,"w":-0.003},
      {"t":10.0,"wo":-0.040,"w":0.008},{"t":10.2,"wo":-0.036,"w":-0.011},{"t":10.4,"wo":0.015,"w":0.005},{"t":10.6,"wo":-0.010,"w":-0.004},{"t":10.8,"wo":0.020,"w":0.007},
      {"t":11.0,"wo":-0.005,"w":-0.006},{"t":11.2,"wo":0.010,"w":0.004},{"t":11.4,"wo":-0.016,"w":-0.005},{"t":11.6,"wo":0.015,"w":0.006},{"t":11.8,"wo":-0.008,"w":-0.004},
      {"t":12.0,"wo":0.005,"w":0.003},{"t":12.2,"wo":0.012,"w":-0.005},{"t":12.4,"wo":-0.024,"w":0.004},{"t":12.6,"wo":0.010,"w":-0.004},{"t":12.8,"wo":-0.005,"w":0.005},
      {"t":13.0,"wo":0.015,"w":-0.003},{"t":13.2,"wo":0.039,"w":0.004},{"t":13.4,"wo":-0.010,"w":-0.006},{"t":13.6,"wo":-0.034,"w":0.005},{"t":13.8,"wo":0.033,"w":-0.004},
      {"t":14.0,"wo":-0.010,"w":0.008},{"t":14.2,"wo":-0.034,"w":-0.006},{"t":14.4,"wo":0.015,"w":0.012},{"t":14.6,"wo":0.028,"w":-0.008},{"t":14.8,"wo":-0.019,"w":0.004},
      {"t":15.0,"wo":0.010,"w":-0.006},{"t":15.2,"wo":-0.005,"w":0.004},{"t":15.4,"wo":0.012,"w":-0.003},{"t":15.6,"wo":-0.008,"w":0.005},{"t":15.8,"wo":0.008,"w":-0.004},
      {"t":16.0,"wo":-0.012,"w":0.003},{"t":16.2,"wo":0.010,"w":-0.004},{"t":16.4,"wo":-0.004,"w":0.004},{"t":16.6,"wo":0.010,"w":-0.003},{"t":16.8,"wo":-0.010,"w":0.004},
      {"t":17.0,"wo":0.008,"w":-0.004},{"t":17.2,"wo":-0.006,"w":0.003},{"t":17.4,"wo":0.012,"w":-0.002},{"t":17.6,"wo":-0.003,"w":0.004},{"t":17.8,"wo":0.006,"w":-0.004},
      {"t":18.0,"wo":-0.008,"w":0.003},{"t":18.2,"wo":0.004,"w":-0.004},{"t":18.4,"wo":-0.012,"w":0.002},{"t":18.6,"wo":0.008,"w":-0.003},{"t":18.8,"wo":0.016,"w":0.004},
      {"t":19.0,"wo":-0.005,"w":-0.002},{"t":19.2,"wo":0.004,"w":0.003},{"t":19.4,"wo":-0.024,"w":-0.004},{"t":19.6,"wo":0.008,"w":0.003},{"t":19.8,"wo":-0.004,"w":-0.003},
      {"t":20.0,"wo":0.010,"w":0.004},{"t":20.4,"wo":-0.008,"w":-0.003},{"t":20.8,"wo":0.012,"w":0.003},{"t":21.2,"wo":-0.010,"w":-0.003},{"t":21.6,"wo":0.008,"w":0.003},
      {"t":22.0,"wo":-0.012,"w":-0.004},{"t":22.4,"wo":0.016,"w":0.004},{"t":22.8,"wo":-0.008,"w":-0.003},{"t":23.2,"wo":-0.021,"w":0.003},{"t":23.6,"wo":0.008,"w":-0.004},
      {"t":24.0,"wo":-0.012,"w":0.005},{"t":24.4,"wo":0.006,"w":-0.003},{"t":24.8,"wo":-0.004,"w":0.003},{"t":25.2,"wo":0.012,"w":-0.004},{"t":25.6,"wo":-0.008,"w":0.003},
      {"t":26.0,"wo":0.010,"w":-0.002},{"t":26.4,"wo":-0.006,"w":0.003},{"t":26.8,"wo":0.012,"w":-0.002},{"t":27.2,"wo":-0.004,"w":0.001},{"t":27.6,"wo":0.008,"w":-0.002},
      {"t":28.0,"wo":-0.010,"w":0.002},{"t":28.4,"wo":0.006,"w":-0.002},{"t":28.8,"wo":-0.014,"w":0.002},{"t":29.2,"wo":0.010,"w":-0.001},{"t":29.6,"wo":-0.006,"w":0.002},
      {"t":30.0,"wo":0.008,"w":-0.002},{"t":30.4,"wo":-0.004,"w":0.002},{"t":30.8,"wo":0.010,"w":-0.001},{"t":31.2,"wo":-0.008,"w":0.002},{"t":31.6,"wo":0.004,"w":-0.002},
      {"t":32.0,"wo":-0.010,"w":0.002},{"t":32.4,"wo":0.008,"w":-0.002},{"t":32.8,"wo":-0.004,"w":0.003},{"t":33.2,"wo":0.006,"w":-0.002},{"t":33.6,"wo":-0.010,"w":0.002},
      {"t":34.0,"wo":-0.015,"w":-0.002},{"t":34.4,"wo":0.005,"w":0.002},{"t":34.8,"wo":-0.008,"w":-0.002},{"t":35.2,"wo":0.002,"w":0.002},{"t":35.6,"wo":-0.006,"w":-0.002},
      {"t":36.0,"wo":0.006,"w":0.001},{"t":36.4,"wo":0.016,"w":-0.002},{"t":36.8,"wo":0.004,"w":0.001},{"t":37.2,"wo":0.008,"w":0.002},{"t":37.6,"wo":-0.004,"w":0.001},
      {"t":38.0,"wo":0.004,"w":-0.002},{"t":38.4,"wo":-0.006,"w":0.002},{"t":38.8,"wo":0.006,"w":-0.003},{"t":39.2,"wo":-0.010,"w":0.002},{"t":39.6,"wo":-0.004,"w":0.003},
      {"t":40.0,"wo":0.006,"w":0.001},{"t":40.4,"wo":-0.010,"w":-0.002},{"t":40.8,"wo":0.002,"w":0.001},{"t":41.2,"wo":-0.004,"w":-0.002},{"t":41.6,"wo":0.006,"w":0.002},
      {"t":42.0,"wo":0.009,"w":0.002},{"t":42.4,"wo":0.006,"w":-0.001},{"t":42.8,"wo":-0.002,"w":-0.003},{"t":43.2,"wo":0.004,"w":0.002},{"t":43.6,"wo":-0.006,"w":0.001},
      {"t":44.0,"wo":-0.012,"w":-0.002},{"t":44.4,"wo":-0.006,"w":-0.003},{"t":44.8,"wo":-0.002,"w":0.002},{"t":45.2,"wo":0.004,"w":-0.001},{"t":45.6,"wo":-0.004,"w":-0.003},
      {"t":46.0,"wo":0.002,"w":0.001},{"t":46.4,"wo":-0.002,"w":-0.002},{"t":46.8,"wo":0.002,"w":0.001},{"t":47.2,"wo":-0.004,"w":-0.002},{"t":47.6,"wo":0.001,"w":0.001},
      {"t":48.0,"wo":-0.004,"w":-0.003},{"t":48.4,"wo":0,"w":-0.001},{"t":48.8,"wo":0.007,"w":0},{"t":49.2,"wo":0.003,"w":-0.001},{"t":49.6,"wo":0.004,"w":0.001},
      {"t":50.0,"wo":0.002,"w":0.002},
      {"t":0.1,"wo":0.002,"w":0},{"t":0.3,"wo":-0.002,"w":0},{"t":0.5,"wo":0.005,"w":0.001},{"t":0.7,"wo":-0.006,"w":-0.001},{"t":0.9,"wo":0.004,"w":0.001},
      {"t":1.1,"wo":-0.004,"w":-0.001},{"t":1.3,"wo":0.005,"w":0.001},{"t":1.5,"wo":-0.006,"w":0},{"t":1.7,"wo":0.006,"w":-0.001},{"t":1.9,"wo":-0.008,"w":0.001},
      {"t":2.1,"wo":0.004,"w":0},{"t":2.3,"wo":0.002,"w":0.002},{"t":2.5,"wo":0.010,"w":-0.002},{"t":2.7,"wo":-0.010,"w":0.002},{"t":2.9,"wo":0.010,"w":0.002},
      {"t":3.1,"wo":-0.005,"w":-0.006},{"t":3.3,"wo":0.010,"w":0.002},{"t":3.5,"wo":0.018,"w":0.004},{"t":3.7,"wo":-0.030,"w":-0.002},{"t":3.9,"wo":-0.010,"w":0.003},
      {"t":4.1,"wo":0.020,"w":0.004},{"t":4.3,"wo":-0.022,"w":-0.006},{"t":4.5,"wo":0.010,"w":0.002},{"t":4.7,"wo":0.012,"w":-0.004},{"t":4.9,"wo":-0.020,"w":0.004},
      {"t":5.1,"wo":0.025,"w":-0.004},{"t":5.3,"wo":-0.010,"w":0.006},{"t":5.5,"wo":0.018,"w":-0.003},{"t":5.7,"wo":-0.025,"w":0.004},{"t":5.9,"wo":0.015,"w":-0.004},
      {"t":6.1,"wo":0.025,"w":0.005},{"t":6.3,"wo":-0.010,"w":-0.006},{"t":6.5,"wo":0.020,"w":0.004},{"t":6.7,"wo":-0.028,"w":-0.003},{"t":6.9,"wo":0.010,"w":0.006},
      {"t":7.1,"wo":0.030,"w":0.004},{"t":7.3,"wo":-0.030,"w":-0.008},{"t":7.5,"wo":0.010,"w":-0.006},{"t":7.7,"wo":-0.028,"w":0.005},{"t":7.9,"wo":0.024,"w":-0.004},
      {"t":8.1,"wo":-0.010,"w":0.006},{"t":8.3,"wo":0.020,"w":-0.006},{"t":8.5,"wo":0.024,"w":0.004},{"t":8.7,"wo":-0.020,"w":-0.005},{"t":8.9,"wo":0.010,"w":0.004},
      {"t":9.1,"wo":-0.020,"w":-0.003},{"t":9.3,"wo":0.020,"w":0.004},{"t":9.5,"wo":-0.030,"w":-0.005},{"t":9.7,"wo":0.030,"w":0.004},{"t":9.9,"wo":0.010,"w":-0.004},
      {"t":10.1,"wo":0.020,"w":0.006},{"t":10.3,"wo":-0.020,"w":-0.005},{"t":10.5,"wo":0.018,"w":0.004},{"t":10.7,"wo":-0.012,"w":-0.003},{"t":10.9,"wo":0.008,"w":0.004},
      {"t":11.1,"wo":-0.015,"w":-0.004},{"t":11.3,"wo":0.012,"w":0.003},{"t":11.5,"wo":-0.010,"w":-0.004},{"t":11.7,"wo":-0.012,"w":0.004},{"t":11.9,"wo":0.012,"w":-0.003},
      {"t":12.1,"wo":-0.016,"w":0.004},{"t":12.3,"wo":0.008,"w":-0.004},{"t":12.5,"wo":0.010,"w":0.005},{"t":12.7,"wo":-0.012,"w":-0.004},{"t":12.9,"wo":0.020,"w":0.004},
      {"t":13.1,"wo":-0.015,"w":-0.005},{"t":13.3,"wo":0.010,"w":0.004},{"t":13.5,"wo":0.025,"w":-0.004},{"t":13.7,"wo":-0.010,"w":0.006},{"t":13.9,"wo":0.010,"w":-0.005},
      {"t":14.1,"wo":0.020,"w":0.004},{"t":14.3,"wo":-0.010,"w":-0.004},{"t":14.5,"wo":-0.012,"w":0.008},{"t":14.7,"wo":0.010,"w":-0.006},{"t":14.9,"wo":-0.008,"w":0.005},
      {"t":15.1,"wo":-0.008,"w":-0.004},{"t":15.3,"wo":0.008,"w":0.004},{"t":15.5,"wo":-0.004,"w":-0.004},{"t":15.7,"wo":0.012,"w":0.003},{"t":15.9,"wo":-0.006,"w":-0.004},
      {"t":16.1,"wo":0.004,"w":0.004},{"t":16.3,"wo":0.010,"w":-0.003},{"t":16.5,"wo":-0.008,"w":0.004},{"t":16.7,"wo":-0.004,"w":-0.004},{"t":16.9,"wo":0.012,"w":0.003},
      {"t":17.1,"wo":-0.010,"w":-0.003},{"t":17.3,"wo":0.004,"w":0.004},{"t":17.5,"wo":-0.008,"w":-0.003},{"t":17.7,"wo":0.010,"w":0.004},{"t":17.9,"wo":-0.006,"w":-0.003},
      {"t":18.1,"wo":0.010,"w":0.003},{"t":18.3,"wo":-0.006,"w":-0.004},{"t":18.5,"wo":0.004,"w":0.003},{"t":18.7,"wo":-0.008,"w":-0.003},{"t":18.9,"wo":0.004,"w":0.003},
      {"t":19.1,"wo":0.010,"w":-0.003},{"t":19.3,"wo":-0.010,"w":0.003},{"t":19.5,"wo":-0.004,"w":-0.003},{"t":19.7,"wo":0.010,"w":0.003},{"t":19.9,"wo":0.006,"w":-0.003},
      {"t":20.2,"wo":-0.006,"w":0.001},{"t":20.6,"wo":0.004,"w":-0.001},{"t":21.0,"wo":0.010,"w":0.001},{"t":21.4,"wo":-0.004,"w":-0.001},{"t":21.8,"wo":-0.010,"w":0.001},
      {"t":22.2,"wo":0.004,"w":-0.001},{"t":22.6,"wo":0.010,"w":0.001},{"t":23.0,"wo":-0.010,"w":-0.001},{"t":23.4,"wo":0.004,"w":0.001},{"t":23.8,"wo":0.012,"w":-0.001},
      {"t":24.2,"wo":-0.006,"w":0.001},{"t":24.6,"wo":0.010,"w":-0.001},{"t":25.0,"wo":-0.010,"w":0.001},{"t":25.4,"wo":0.004,"w":-0.001},{"t":25.8,"wo":-0.004,"w":0.001},
      {"t":26.2,"wo":0.012,"w":-0.001},{"t":26.6,"wo":0.004,"w":0.001},{"t":27.0,"wo":-0.008,"w":-0.001},{"t":27.4,"wo":0.010,"w":0.001},{"t":27.8,"wo":-0.004,"w":-0.001},
      {"t":28.2,"wo":0.006,"w":0.001},{"t":28.6,"wo":0.004,"w":-0.001},{"t":29.0,"wo":-0.008,"w":0.001},{"t":29.4,"wo":0.006,"w":-0.001},{"t":29.8,"wo":-0.010,"w":0.001},
      {"t":30.2,"wo":0.004,"w":-0.001},{"t":30.6,"wo":-0.008,"w":0.001},{"t":31.0,"wo":0.006,"w":-0.001},{"t":31.4,"wo":-0.004,"w":0.001},{"t":31.8,"wo":0.008,"w":-0.001},
      {"t":32.2,"wo":-0.004,"w":0.001},{"t":32.6,"wo":0.010,"w":-0.001},{"t":33.0,"wo":-0.006,"w":0.001},{"t":33.4,"wo":0.004,"w":-0.001},{"t":33.8,"wo":-0.004,"w":0.001},
      {"t":34.2,"wo":-0.008,"w":-0.001},{"t":34.6,"wo":-0.002,"w":0.001},{"t":35.0,"wo":0.004,"w":-0.001},{"t":35.4,"wo":-0.008,"w":0.001},{"t":35.8,"wo":0.004,"w":-0.001},
      {"t":36.2,"wo":0.010,"w":0.001},{"t":36.6,"wo":0.010,"w":-0.001},{"t":37.0,"wo":0.002,"w":0.001},{"t":37.4,"wo":0.004,"w":0.001},{"t":37.8,"wo":0.006,"w":-0.001},
      {"t":38.2,"wo":-0.004,"w":0.001},{"t":38.6,"wo":0.002,"w":-0.001},{"t":39.0,"wo":-0.006,"w":0.001},{"t":39.4,"wo":-0.008,"w":0.001},{"t":39.8,"wo":0.002,"w":0.001},
      {"t":40.2,"wo":-0.004,"w":-0.001},{"t":40.6,"wo":-0.008,"w":-0.001},{"t":41.0,"wo":0.004,"w":0.001},{"t":41.4,"wo":0.002,"w":-0.001},{"t":41.8,"wo":0.008,"w":0.001},
      {"t":42.2,"wo":0.004,"w":0.001},{"t":42.6,"wo":0.006,"w":-0.001},{"t":43.0,"wo":-0.004,"w":-0.001},{"t":43.4,"wo":-0.002,"w":0.001},{"t":43.8,"wo":-0.008,"w":-0.001},
      {"t":44.2,"wo":-0.010,"w":-0.002},{"t":44.6,"wo":-0.004,"w":-0.001},{"t":45.0,"wo":0.002,"w":0.001},{"t":45.4,"wo":-0.002,"w":-0.001},{"t":45.8,"wo":0.004,"w":-0.001},
      {"t":46.2,"wo":-0.004,"w":0.001},{"t":46.6,"wo":0.004,"w":-0.001},{"t":47.0,"wo":-0.002,"w":0.001},{"t":47.4,"wo":0.002,"w":-0.001},{"t":47.8,"wo":-0.004,"w":-0.001},
      {"t":48.2,"wo":-0.002,"w":-0.002},{"t":48.6,"wo":0.005,"w":0},{"t":49.0,"wo":0.006,"w":-0.001},{"t":49.4,"wo":0.002,"w":0},{"t":49.8,"wo":0.004,"w":0.001}
    ],
    "d": [
      {"f":0,"wo":0.0001,"w":0.00005},{"f":0.1,"wo":0.0005,"w":0.0002},{"f":0.2,"wo":0.0014,"w":0.0004},{"f":0.3,"wo":0.0007,"w":0.0002},{"f":0.4,"wo":0.0012,"w":0.0003},
      {"f":0.5,"wo":0.0004,"w":0.0001},{"f":0.6,"wo":0.0008,"w":0.0002},{"f":0.7,"wo":0.0016,"w":0.0001},{"f":0.8,"wo":0.0016,"w":0.0003},{"f":0.9,"wo":0.0008,"w":0.0002},
      {"f":1.0,"wo":0.0014,"w":0.0004},{"f":1.1,"wo":0.0024,"w":0.0003},{"f":1.2,"wo":0.0015,"w":0.0005},{"f":1.3,"wo":0.0023,"w":0.0004},{"f":1.4,"wo":0.0028,"w":0.00085},
      {"f":1.5,"wo":0.0020,"w":0.0005},{"f":1.6,"wo":0.0021,"w":0.0006},{"f":1.7,"wo":0.0005,"w":0.0001},{"f":1.8,"wo":0.0009,"w":0.0003},{"f":1.9,"wo":0.0011,"w":0.0002},
      {"f":2.0,"wo":0.0016,"w":0.00045},{"f":2.1,"wo":0.0008,"w":0.0003},{"f":2.2,"wo":0.0007,"w":0.0002},{"f":2.3,"wo":0.0004,"w":0.0001},{"f":2.4,"wo":0.0012,"w":0.0002},
      {"f":2.5,"wo":0.0005,"w":0.0001},{"f":2.6,"wo":0.0009,"w":0.0002},{"f":2.7,"wo":0.0015,"w":0.0001},{"f":2.8,"wo":0.0016,"w":0.00025},{"f":2.9,"wo":0.0009,"w":0.0001},
      {"f":3.0,"wo":0.0005,"w":0.00015},{"f":3.1,"wo":0.0006,"w":0.0001},{"f":3.2,"wo":0.0008,"w":0.00015},{"f":3.3,"wo":0.0003,"w":0.0001},{"f":3.4,"wo":0.0005,"w":0.0001},
      {"f":3.5,"wo":0.0004,"w":0.00005},{"f":3.6,"wo":0.0009,"w":0.0001},{"f":3.7,"wo":0.0005,"w":0.00005},{"f":3.8,"wo":0.0003,"w":0.00005},{"f":3.9,"wo":0.0006,"w":0.00003},
      {"f":4.0,"wo":0.0010,"w":0.00005},{"f":4.1,"wo":0.0004,"w":0.00003},{"f":4.2,"wo":0.00005,"w":0.00002},{"f":4.3,"wo":0.0004,"w":0.00003},{"f":4.4,"wo":0.0007,"w":0.00002},
      {"f":4.5,"wo":0.0005,"w":0.00002},{"f":4.6,"wo":0.0003,"w":0.00001},{"f":4.7,"wo":0.0005,"w":0.00002},{"f":4.8,"wo":0.0003,"w":0.00001},{"f":4.9,"wo":0.0006,"w":0.00001},
      {"f":5.0,"wo":0.0005,"w":0.00002},{"f":5.1,"wo":0.00062,"w":0.00001},{"f":5.2,"wo":0.0003,"w":0.00001},{"f":5.3,"wo":0.0004,"w":0.00001},{"f":5.4,"wo":0.0002,"w":0.00001},
      {"f":5.5,"wo":0.0004,"w":0.00001},{"f":5.6,"wo":0.0005,"w":0.00001},{"f":5.7,"wo":0.0003,"w":0.00001},{"f":5.8,"wo":0.0004,"w":0.00001},{"f":5.9,"wo":0.0002,"w":0.00001},
      {"f":6.0,"wo":0.0003,"w":0.00001},{"f":6.1,"wo":0.0004,"w":0.00001},{"f":6.2,"wo":0.0002,"w":0.00001},{"f":6.3,"wo":0.0003,"w":0.00001},{"f":6.4,"wo":0.0001,"w":0.00001},
      {"f":6.5,"wo":0.0002,"w":0.00001},{"f":6.6,"wo":0.00003,"w":0.00001},{"f":6.7,"wo":0.0001,"w":0.00001},{"f":6.8,"wo":0.0003,"w":0.00001},{"f":6.9,"wo":0.0002,"w":0.00001},
      {"f":7.0,"wo":0.0004,"w":0.00001},{"f":7.1,"wo":0.0002,"w":0.00001},{"f":7.2,"wo":0.0003,"w":0.00001},{"f":7.3,"wo":0.0002,"w":0.00001},{"f":7.4,"wo":0.0003,"w":0.00001},
      {"f":7.5,"wo":0.0004,"w":0.00001},{"f":7.6,"wo":0.0002,"w":0.00001},{"f":7.7,"wo":0.00005,"w":0.00001},{"f":7.8,"wo":0.00015,"w":0.00001},{"f":7.9,"wo":0.0001,"w":0.00001},
      {"f":8.0,"wo":0.00015,"w":0.00001},{"f":8.25,"wo":0.00008,"w":0.00001},{"f":8.5,"wo":0.00012,"w":0.00001},{"f":8.75,"wo":0.00008,"w":0.00001},{"f":9.0,"wo":0.0001,"w":0.00001},
      {"f":9.25,"wo":0.00005,"w":0.00001},{"f":9.5,"wo":0.00006,"w":0.00001},{"f":9.75,"wo":0.00005,"w":0.00001},{"f":10.0,"wo":0.00006,"w":0.00001},{"f":10.25,"wo":0.0001,"w":0.00001},
      {"f":10.5,"wo":0.00004,"w":0.00001},{"f":10.75,"wo":0.00005,"w":0.00001},{"f":11.0,"wo":0.00003,"w":0.00001},{"f":11.25,"wo":0.00005,"w":0.00001},{"f":11.5,"wo":0.00003,"w":0.00001},
      {"f":11.75,"wo":0.00004,"w":0.00001},{"f":12.0,"wo":0.00003,"w":0.00001},{"f":12.25,"wo":0.00004,"w":0.00001},{"f":12.5,"wo":0.00002,"w":0.00001},{"f":12.75,"wo":0.00004,"w":0.00001},
      {"f":13.0,"wo":0.00003,"w":0.00001},{"f":13.5,"wo":0.00004,"w":0.00001},{"f":14.0,"wo":0.00003,"w":0.00001},{"f":14.5,"wo":0.00002,"w":0.00001},{"f":15.0,"wo":0.00003,"w":0.00001},
      {"f":15.5,"wo":0.00002,"w":0.00001},{"f":16.0,"wo":0.00003,"w":0.00001},{"f":16.5,"wo":0.00002,"w":0.00001},{"f":17.0,"wo":0.00003,"w":0.00001},{"f":17.5,"wo":0.00002,"w":0.00001},
      {"f":18.0,"wo":0.00003,"w":0.00001},{"f":18.5,"wo":0.00002,"w":0.00001},{"f":19.0,"wo":0.00002,"w":0.00001},{"f":19.5,"wo":0.00002,"w":0.00001},{"f":20.0,"wo":0.00002,"w":0.00001},
      {"f":0.05,"wo":0.0003,"w":0.0001},{"f":0.15,"wo":0.0010,"w":0.0003},{"f":0.25,"wo":0.0009,"w":0.0003},{"f":0.35,"wo":0.0011,"w":0.0001},{"f":0.45,"wo":0.0008,"w":0.0002},
      {"f":0.55,"wo":0.0012,"w":0.0001},{"f":0.65,"wo":0.0006,"w":0.0003},{"f":0.75,"wo":0.0011,"w":0.0002},{"f":0.85,"wo":0.0013,"w":0.00025},{"f":0.95,"wo":0.0011,"w":0.0003},
      {"f":1.05,"wo":0.0018,"w":0.0002},{"f":1.15,"wo":0.0013,"w":0.0004},{"f":1.25,"wo":0.0020,"w":0.0003},{"f":1.35,"wo":0.0022,"w":0.0006},{"f":1.45,"wo":0.0016,"w":0.0007},
      {"f":1.55,"wo":0.0012,"w":0.0004},{"f":1.65,"wo":0.0015,"w":0.0003},{"f":1.75,"wo":0.0010,"w":0.0002},{"f":1.85,"wo":0.0006,"w":0.0004},{"f":1.95,"wo":0.0013,"w":0.0003},
      {"f":2.05,"wo":0.0011,"w":0.0004},{"f":2.15,"wo":0.0012,"w":0.0002},{"f":2.25,"wo":0.0009,"w":0.0003},{"f":2.35,"wo":0.0011,"w":0.0002},{"f":2.45,"wo":0.0008,"w":0.0001},
      {"f":2.55,"wo":0.0012,"w":0.0002},{"f":2.65,"wo":0.0011,"w":0.0002},{"f":2.75,"wo":0.0008,"w":0.0002},{"f":2.85,"wo":0.0012,"w":0.0002},{"f":2.95,"wo":0.0007,"w":0.0002},
      {"f":3.05,"wo":0.0009,"w":0.0001},{"f":3.15,"wo":0.0004,"w":0.0002},{"f":3.25,"wo":0.0006,"w":0.0001},{"f":3.35,"wo":0.0008,"w":0.0001},{"f":3.45,"wo":0.0006,"w":0.00008},
      {"f":3.55,"wo":0.0003,"w":0.00006},{"f":3.65,"wo":0.0007,"w":0.00008},{"f":3.75,"wo":0.0004,"w":0.00005},{"f":3.85,"wo":0.0008,"w":0.00004},{"f":3.95,"wo":0.0005,"w":0.00004},
      {"f":4.05,"wo":0.0007,"w":0.00004},{"f":4.15,"wo":0.0002,"w":0.00003},{"f":4.25,"wo":0.0003,"w":0.00002},{"f":4.35,"wo":0.0006,"w":0.00003},{"f":4.45,"wo":0.0003,"w":0.00002},
      {"f":4.55,"wo":0.0006,"w":0.00002},{"f":4.65,"wo":0.0004,"w":0.00002},{"f":4.75,"wo":0.0006,"w":0.00002},{"f":4.85,"wo":0.0005,"w":0.00002},{"f":4.95,"wo":0.0003,"w":0.00002}
    ]
  },
  "spacing": 35.5,
  "bounds": "full",
  "vconcat": [
    {
      "spacing": 220,
      "bounds": "flush",
      "hconcat": [
        {
          "width": 431, "height": 363,
          "data": {"name": "a"},
          "layer": [
            {"mark": {"type": "line"}, "encoding": {
              "x": {"field": "t", "type": "quantitative", "scale": {"domain": [0, 50], "nice": false, "zero": false}, "axis": {"values": [0, 10, 20, 30, 40, 50], "title": "Time (sec)", "titleY": 62}},
              "y": {"field": "wo", "type": "quantitative", "scale": {"domain": [-0.1, 0.16], "nice": false, "zero": false}, "axis": {"values": [-0.1, -0.05, 0, 0.05, 0.1, 0.15], "labelExpr": "(datum.value < 0 ? '-' : '') + (datum.value == -0.1 ? '0.1' : format(abs(datum.value), '.2f'))", "title": "Acceleration (g)", "titleX": -87}},
              "color": {"datum": "Without LRSM", "type": "nominal", "scale": {"domain": ["Without LRSM", "With LRSM"], "range": ["#2D4E9E", "#EF3B45"]}, "legend": {"legendX": 160, "legendY": 12.5}},
              "strokeDash": {"datum": "Without LRSM", "type": "nominal", "scale": {"domain": ["Without LRSM", "With LRSM"], "range": [[1, 0], [10, 9]]}, "legend": {"legendX": 160, "legendY": 12.5}}
            }},
            {"mark": {"type": "line"}, "encoding": {
              "x": {"field": "t", "type": "quantitative"},
              "y": {"field": "w", "type": "quantitative"},
              "color": {"datum": "With LRSM", "type": "nominal"},
              "strokeDash": {"datum": "With LRSM", "type": "nominal"}
            }},
            {"mark": {"type": "text", "font": "Liberation Sans", "fontWeight": "bold", "fontSize": 22, "color": "#1a1a1a", "align": "center", "baseline": "middle"}, "encoding": {
              "x": {"datum": -9.74, "type": "quantitative"},
              "y": {"datum": 0.1514, "type": "quantitative"},
              "text": {"value": "A"}
            }}
          ]
        },
        {
          "width": 437, "height": 356,
          "data": {"name": "b"},
          "layer": [
            {"mark": {"type": "line"}, "encoding": {
              "x": {"field": "f", "type": "quantitative", "scale": {"domain": [0, 20], "nice": false, "zero": false}, "axis": {"values": [0, 5, 10, 15, 20], "title": "Frequency \u00a0(Hz)", "titleY": 62}},
              "y": {"field": "wo", "type": "quantitative", "scale": {"domain": [-0.00004, 0.006], "nice": false, "zero": false}, "axis": {"values": [0, 0.001, 0.002, 0.003, 0.004, 0.005, 0.006], "format": ".3f", "title": "Acceleration (g)", "titleX": -91}},
              "color": {"datum": "Without LRSM", "type": "nominal", "scale": {"domain": ["Without LRSM", "With LRSM"], "range": ["#2D4E9E", "#EF3B45"]}, "legend": {"legendX": 169, "legendY": 9.5}},
              "strokeDash": {"datum": "Without LRSM", "type": "nominal", "scale": {"domain": ["Without LRSM", "With LRSM"], "range": [[1, 0], [10, 9]]}, "legend": {"legendX": 169, "legendY": 9.5}}
            }},
            {"mark": {"type": "line"}, "encoding": {
              "x": {"field": "f", "type": "quantitative"},
              "y": {"field": "w", "type": "quantitative"},
              "color": {"datum": "With LRSM", "type": "nominal"},
              "strokeDash": {"datum": "With LRSM", "type": "nominal"}
            }},
            {"mark": {"type": "text", "font": "Liberation Sans", "fontWeight": "bold", "fontSize": 22, "color": "#1a1a1a", "align": "center", "baseline": "middle"}, "encoding": {
              "x": {"datum": -5.675, "type": "quantitative"},
              "y": {"datum": 0.0058, "type": "quantitative"},
              "text": {"value": "B"}
            }}
          ]
        }
      ]
    },
    {
      "spacing": 220,
      "bounds": "flush",
      "hconcat": [
        {
          "width": 441, "height": 357,
          "data": {"name": "c"},
          "layer": [
            {"mark": {"type": "line"}, "encoding": {
              "x": {"field": "t", "type": "quantitative", "scale": {"domain": [0, 50], "nice": false, "zero": false}, "axis": {"values": [0, 10, 20, 30, 40, 50], "title": "Time (sec)", "titleY": 61}},
              "y": {"field": "wo", "type": "quantitative", "scale": {"domain": [-0.06, 0.06], "nice": false, "zero": false}, "axis": {"values": [-0.06, -0.04, -0.02, 0, 0.02, 0.04, 0.06], "labelExpr": "(datum.value < 0 ? '-' : '') + format(abs(datum.value), '.2f')", "title": "Acceleration (g)", "titleX": -87}},
              "color": {"datum": "Without LRSM", "type": "nominal", "scale": {"domain": ["Without LRSM", "With LRSM"], "range": ["#2D4E9E", "#EF3B45"]}, "legend": {"legendX": 170, "legendY": 7.5}},
              "strokeDash": {"datum": "Without LRSM", "type": "nominal", "scale": {"domain": ["Without LRSM", "With LRSM"], "range": [[1, 0], [10, 9]]}, "legend": {"legendX": 170, "legendY": 7.5}}
            }},
            {"mark": {"type": "line"}, "encoding": {
              "x": {"field": "t", "type": "quantitative"},
              "y": {"field": "w", "type": "quantitative"},
              "color": {"datum": "With LRSM", "type": "nominal"},
              "strokeDash": {"datum": "With LRSM", "type": "nominal"}
            }},
            {"mark": {"type": "text", "font": "Liberation Sans", "fontWeight": "bold", "fontSize": 22, "color": "#1a1a1a", "align": "center", "baseline": "middle"}, "encoding": {
              "x": {"datum": -9.41, "type": "quantitative"},
              "y": {"datum": 0.054, "type": "quantitative"},
              "text": {"value": "C"}
            }}
          ]
        },
        {
          "spacing": 3,
          "bounds": "flush",
          "vconcat": [
            {
              "width": 425, "height": 1,
              "view": {"stroke": null},
              "data": {"values": [{"f": 0}]},
              "mark": {"type": "point", "opacity": 0},
              "encoding": {}
            },
            {
              "width": 425, "height": 355,
              "data": {"name": "d"},
              "layer": [
                {"mark": {"type": "line"}, "encoding": {
                  "x": {"field": "f", "type": "quantitative", "scale": {"domain": [0, 20], "nice": false, "zero": false}, "axis": {"values": [0, 5, 10, 15, 20], "title": "Frequency (Hz)", "titleY": 62}},
                  "y": {"field": "wo", "type": "quantitative", "scale": {"domain": [-0.000037, 0.003], "nice": false, "zero": false}, "axis": {"values": [0, 0.0005, 0.001, 0.0015, 0.002, 0.0025, 0.003], "format": ".4f", "title": "Acceleration (g)", "titleX": -100}},
                  "color": {"datum": "Without LRSM", "type": "nominal", "scale": {"domain": ["Without LRSM", "With LRSM"], "range": ["#2D4E9E", "#EF3B45"]}, "legend": {"legendX": 160, "legendY": 8.5}},
                  "strokeDash": {"datum": "Without LRSM", "type": "nominal", "scale": {"domain": ["Without LRSM", "With LRSM"], "range": [[1, 0], [10, 9]]}, "legend": {"legendX": 160, "legendY": 8.5}}
                }},
                {"mark": {"type": "line"}, "encoding": {
                  "x": {"field": "f", "type": "quantitative"},
                  "y": {"field": "w", "type": "quantitative"},
                  "color": {"datum": "With LRSM", "type": "nominal"},
                  "strokeDash": {"datum": "With LRSM", "type": "nominal"}
                }},
                {"mark": {"type": "text", "font": "Liberation Sans", "fontWeight": "bold", "fontSize": 22, "color": "#1a1a1a", "align": "center", "baseline": "middle"}, "encoding": {
                  "x": {"datum": -6.26, "type": "quantitative"},
                  "y": {"datum": 0.00288, "type": "quantitative"},
                  "text": {"value": "D"}
                }}
              ]
            }
          ]
        }
      ]
    }
  ]
}
